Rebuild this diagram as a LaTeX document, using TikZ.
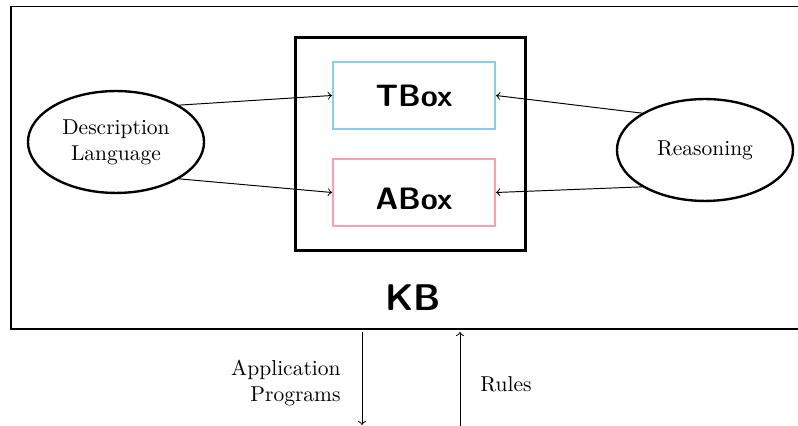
\documentclass[tikz,border=0pt]{standalone}
\usetikzlibrary{shapes.geometric}
\definecolor{tblue}{RGB}{135,206,235}
\definecolor{apink}{RGB}{255,158,178}
\begin{document}
\begin{tikzpicture}[x=0.4651pt,y=-0.4651pt,
  ell/.style={ellipse,draw,line width=1.1pt,minimum width=81.9pt,minimum height=47.4pt,inner sep=0pt,align=center},
  inbox/.style={draw,line width=1.05pt,minimum width=75.3pt,minimum height=31.2pt,inner sep=0pt},
  boxtext/.style={font=\Large\sffamily\bfseries,inner sep=0pt},
  conn/.style={->,>=to,line width=0.45pt},
  big/.style={font=\LARGE\sffamily\bfseries}]
\useasboundingbox (0,0) rectangle (798,426);
\clip (0,0) rectangle (798,426);
\draw[line width=0.6pt] (820,6.5) -- (11,6.5) -- (11,329) -- (820,329);
\node[draw,line width=1.4pt,minimum width=107.4pt,minimum height=99.5pt,inner sep=0pt] (kbbox) at (410.5,144) {};
\node[inbox,draw=tblue] (tbox) at (414,95.5) {};
\node[inbox,draw=apink] (abox) at (414,192.5) {};
\node[boxtext] (tlabel) at (414,96) {TBox};
\node[boxtext] (alabel) at (414,199) {ABox};
\node[ell] (dl) at (116,142) {Description\\Language};
\node[ell] (reason) at (705,150) {Reasoning};
\node[big] (kb) at (413,298) {KB};
\draw[conn] (dl.north east) -- (tbox.west);
\draw[conn] (dl.south east) -- (abox.west);
\draw[conn] (reason.north west) -- (tbox.east);
\draw[conn] (reason.south west) -- (abox.east);
\coordinate (a1) at (362,332);
\coordinate (a2) at (362,425);
\coordinate (r1) at (460,426);
\coordinate (r2) at (460,332);
\draw[conn] (a1) -- (a2);
\draw[conn] (r1) -- (r2);
\node[anchor=east,align=right,inner sep=0pt] (app) at (341,383) {Application\\Programs};
\node[anchor=west,inner sep=0pt] (rules) at (480,384) {Rules};
\end{tikzpicture}
\end{document}
